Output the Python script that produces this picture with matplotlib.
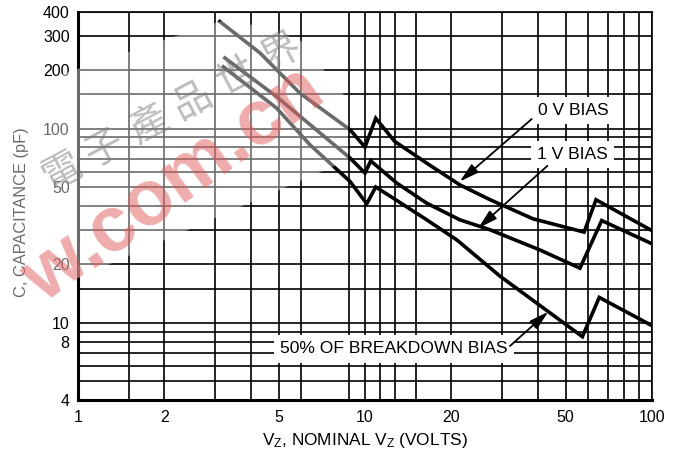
import matplotlib
matplotlib.use("Agg")
import matplotlib.pyplot as plt
from matplotlib import font_manager as fm
from matplotlib.patches import Polygon
from matplotlib.ticker import FixedLocator, NullFormatter, FixedFormatter

# ---------------- data ----------------
bias0_v = [3.12, 4.31, 4.92, 5.94, 8.87, 10.0, 10.9, 12.7, 16.4, 21.4, 27.3, 38.5, 58.0, 63.8, 100]
bias0_c = [356, 245, 201, 152, 98.6, 80.3, 113, 85.8, 66.4, 51.3, 43.0, 34.3, 29.3, 43.0, 29.8]

bias1_v = [3.25, 4.92, 8.87, 9.61, 10.0, 10.47, 12.9, 16.4, 21.4, 27.3, 40.7, 56.1, 66.8, 100]
bias1_c = [231, 146, 70.5, 62.6, 59.0, 68.2, 52.4, 41.3, 33.9, 30.1, 23.7, 19.1, 33.6, 25.5]

half_v = [3.21, 4.92, 6.43, 8.87, 9.61, 10.14, 10.9, 12.55, 16.4, 20.9, 29.5, 57.2, 65.5, 100]
half_c = [208, 127.5, 82.5, 53.4, 45.6, 41.0, 50.0, 43.8, 33.9, 26.7, 17.4, 8.48, 13.5, 9.66]

x_ticks = [1, 2, 5, 10, 20, 50, 100]
x_tick_labels = ["1", "2", "5", "10", "20", "50", "100"]
x_grid = [1.5, 2, 3, 4, 5, 6, 8.8, 10, 11.3, 12.7, 15, 20, 30, 40, 50, 60, 70, 80, 90]

y_ticks = [4, 8, 10, 20, 50, 100, 200, 300, 400]
y_tick_labels = ["4", "8", "10", "20", "50", "100", "200", "300", "400"]
y_grid = [5, 6, 7, 8, 9, 10, 15, 20, 30, 40, 50, 60, 70, 80, 90, 100, 150, 200, 300]

labels = ["0 V BIAS", "1 V BIAS", "50% OF BREAKDOWN BIAS"]
label_pos = [(53.0, 124), (53.0, 73.3), (12.6, 7.33)]
arrow_tail = [(38.1, 112), (43.2, 64.3), (32.0, 7.59)]
arrow_tip = [(21.4, 53.4), (24.8, 30.7), (43.5, 11.4)]

# ---------------- fonts ----------------
def pick(fams):
    for f in fams:
        try:
            fm.findfont(fm.FontProperties(family=f), fallback_to_default=False)
            return f
        except Exception:
            pass
    return "DejaVu Sans"

REG = pick(["Liberation Sans", "Arial", "DejaVu Sans"])
CJK = pick(["Noto Sans CJK TC", "Noto Sans CJK SC"])

plt.rcParams["font.family"] = [REG, "DejaVu Sans"]

W, H = 674, 461
fig = plt.figure(figsize=(W / 100, H / 100), dpi=100)
x0, x1, ytop, ybot = 78, 652, 11.7, 400
ax = fig.add_axes([x0 / W, 1 - ybot / H, (x1 - x0) / W, (ybot - ytop) / H])
ax.set_xscale("log")
ax.set_yscale("log")
ax.set_xlim(1, 100)
ax.set_ylim(4, 400)

ax.xaxis.set_major_locator(FixedLocator(x_ticks))
ax.xaxis.set_major_formatter(FixedFormatter(x_tick_labels))
ax.xaxis.set_minor_locator(FixedLocator(x_grid))
ax.xaxis.set_minor_formatter(NullFormatter())
ax.yaxis.set_major_locator(FixedLocator(y_ticks))
ax.yaxis.set_major_formatter(FixedFormatter(y_tick_labels))
ax.yaxis.set_minor_locator(FixedLocator(y_grid))
ax.yaxis.set_minor_formatter(NullFormatter())
ax.tick_params(which="both", length=0)
ax.tick_params(axis="x", pad=7, labelsize=11.5, colors="black")
ax.tick_params(axis="y", pad=6, labelsize=11.5, colors="black")

ax.grid(True, which="both", color="black", lw=1.2)
ax.set_axisbelow(True)
for s in ["left", "bottom"]:
    ax.spines[s].set_linewidth(2.2)
for s in ["top", "right"]:
    ax.spines[s].set_linewidth(1.2)

for xs, ys in [(bias0_v, bias0_c), (bias1_v, bias1_c), (half_v, half_c)]:
    ax.plot(xs, ys, color="black", lw=2.6, solid_joinstyle="miter", zorder=4)

for txt, pos in zip(labels, label_pos):
    ax.text(pos[0], pos[1], txt, ha="center", va="center", fontsize=12.6,
            zorder=5,
            bbox=dict(facecolor="white", edgecolor="none", boxstyle="square,pad=0.35"))
for tail, tip in zip(arrow_tail, arrow_tip):
    ax.annotate("", xy=tip, xytext=tail, zorder=6,
                arrowprops=dict(arrowstyle="-|>,head_length=0.9,head_width=0.25",
                                color="black", lw=1.3, mutation_scale=13,
                                shrinkA=0, shrinkB=0))

ax.set_xlabel(r"$\mathregular{V_Z}$, NOMINAL $\mathregular{V_Z}$ (VOLTS)", fontsize=12.4)
ax.xaxis.set_label_coords(0.5, (ybot - 440) / (ybot - ytop))
ax.xaxis.label.set_va("center")
ax.set_ylabel("C, CAPACITANCE (pF)", fontsize=11.8)
ax.yaxis.set_label_coords((22 - x0) / (x1 - x0), (ybot - 212) / (ybot - ytop))
ax.yaxis.label.set_va("center")
ax.yaxis.label.set_ha("center")

# ---------------- watermark overlay ----------------
def px(p):
    return (p[0], H - p[1])

band = [(0, 95), (230, 18), (300, 40), (348, 100), (348, 160), (0, 312)]
fig.patches.append(Polygon([px(p) for p in band], closed=True, transform=None,
                           facecolor="white", edgecolor="none", alpha=0.42, zorder=20))

fig.text(90 / W, 1 - 268 / H, ".com.cn", rotation=36, rotation_mode="anchor",
         ha="left", va="baseline", fontsize=56, fontweight="bold",
         color="#e05a5a", alpha=0.5, zorder=21)
fig.text(92 / W, 1 - 268 / H, "w", rotation=36, rotation_mode="anchor",
         ha="right", va="baseline", fontsize=56, fontweight="bold",
         color="#e05a5a", alpha=0.5, zorder=21)

wm_chars = "電子產品世界"
for i, ch in enumerate(wm_chars):
    t = i - 1
    cx, cy = 105 + 50 * 0.877 * t, 148 - 50 * 0.480 * t
    fig.text(cx / W, 1 - cy / H, ch, rotation=28, ha="center", va="center",
             rotation_mode="anchor", fontsize=28, family=[CJK, "DejaVu Sans"],
             color="#7a7a7a", alpha=0.5, zorder=22)

fig.savefig("out.png", dpi=100)
